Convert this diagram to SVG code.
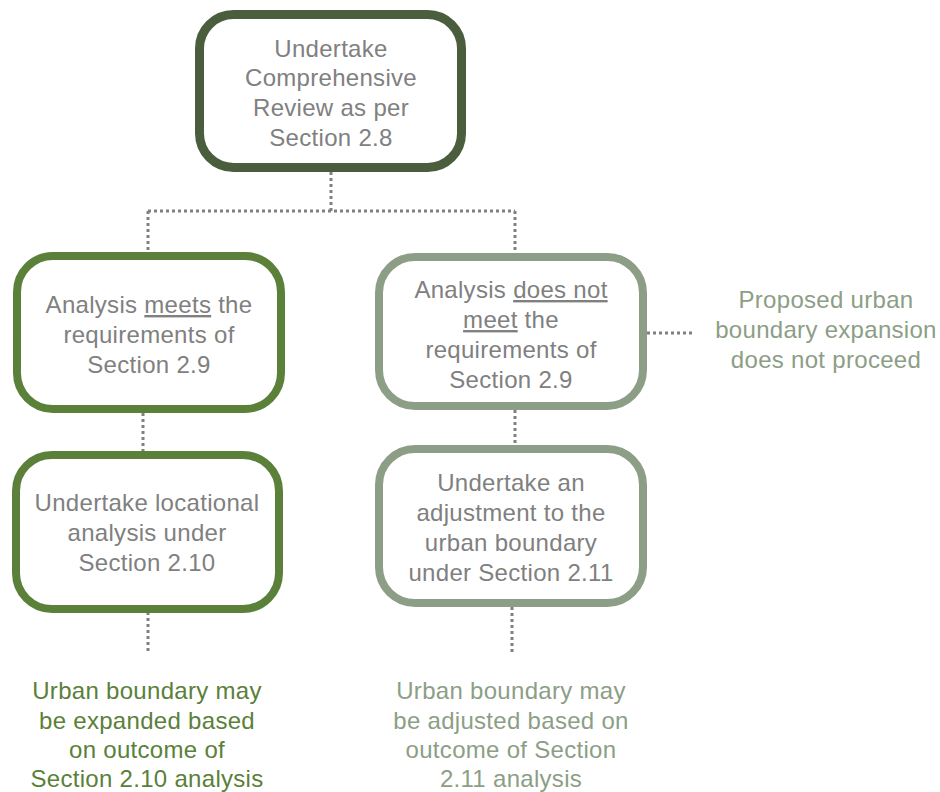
<svg xmlns="http://www.w3.org/2000/svg" width="940" height="792" viewBox="0 0 940 792">
<style>
.t{font-family:"Liberation Sans",Arial,sans-serif;font-size:24px;letter-spacing:0.3px;text-anchor:middle;fill:#808080;stroke:currentColor;stroke-width:0}
.g{fill:#5a8039}
.s{fill:#8c9e86}
.u{text-decoration:underline}
.c{fill:none;stroke:#808080;stroke-width:3;stroke-dasharray:3 3}
.box{fill:#fff}
</style>
<rect width="940" height="792" fill="#fff"/>
<g id="connectors">
<path class="c" d="M331 172 V211"/>
<path class="c" d="M148 211 H515"/>
<path class="c" d="M148 211 V252"/>
<path class="c" d="M515 211 V253"/>
<path class="c" d="M143 413 V452"/>
<path class="c" d="M515 410 V445"/>
<path class="c" d="M148 612 V652"/>
<path class="c" d="M512 607 V652"/>
<path class="c" d="M647 333 H692"/>
</g>
<g id="review">
<rect class="box" x="199.5" y="14.5" width="262" height="153" rx="34" stroke="#4a5e3e" stroke-width="9"/>
<text class="t" x="331" y="57">Undertake</text>
<text class="t" x="331" y="86">Comprehensive</text>
<text class="t" x="331" y="116">Review as per</text>
<text class="t" x="331" y="146">Section 2.8</text>
</g>
<g id="meets">
<rect class="box" x="17" y="256" width="264" height="153" rx="36" stroke="#5a8039" stroke-width="8"/>
<text class="t" x="149" y="313">Analysis <tspan class="u">meets</tspan> the</text>
<text class="t" x="149" y="343">requirements of</text>
<text class="t" x="149" y="373">Section 2.9</text>
</g>
<g id="not-meet">
<rect class="box" x="379" y="257" width="264" height="149" rx="36" stroke="#8c9e86" stroke-width="8"/>
<text class="t" x="511" y="298">Analysis <tspan class="u">does not</tspan></text>
<text class="t" x="511" y="328"><tspan class="u">meet</tspan> the</text>
<text class="t" x="511" y="358">requirements of</text>
<text class="t" x="511" y="388">Section 2.9</text>
</g>
<g id="not-proceed">
<text class="t s" x="826" y="308">Proposed urban</text>
<text class="t s" x="826" y="338">boundary expansion</text>
<text class="t s" x="826" y="368">does not proceed</text>
</g>
<g id="locational">
<rect class="box" x="16" y="455" width="263" height="154" rx="36" stroke="#5a8039" stroke-width="8"/>
<text class="t" x="147" y="511">Undertake locational</text>
<text class="t" x="147" y="541">analysis under</text>
<text class="t" x="147" y="571">Section 2.10</text>
</g>
<g id="adjustment">
<rect class="box" x="379" y="449" width="264" height="154" rx="36" stroke="#8c9e86" stroke-width="8"/>
<text class="t" x="511" y="491">Undertake an</text>
<text class="t" x="511" y="521">adjustment to the</text>
<text class="t" x="511" y="551">urban boundary</text>
<text class="t" x="511" y="581">under Section 2.11</text>
</g>
<g id="expanded">
<text class="t g" x="147" y="699">Urban boundary may</text>
<text class="t g" x="147" y="729">be expanded based</text>
<text class="t g" x="147" y="758">on outcome of</text>
<text class="t g" x="147" y="787">Section 2.10 analysis</text>
</g>
<g id="adjusted">
<text class="t s" x="511" y="699">Urban boundary may</text>
<text class="t s" x="511" y="729">be adjusted based on</text>
<text class="t s" x="511" y="758">outcome of Section</text>
<text class="t s" x="511" y="787">2.11 analysis</text>
</g>
</svg>
